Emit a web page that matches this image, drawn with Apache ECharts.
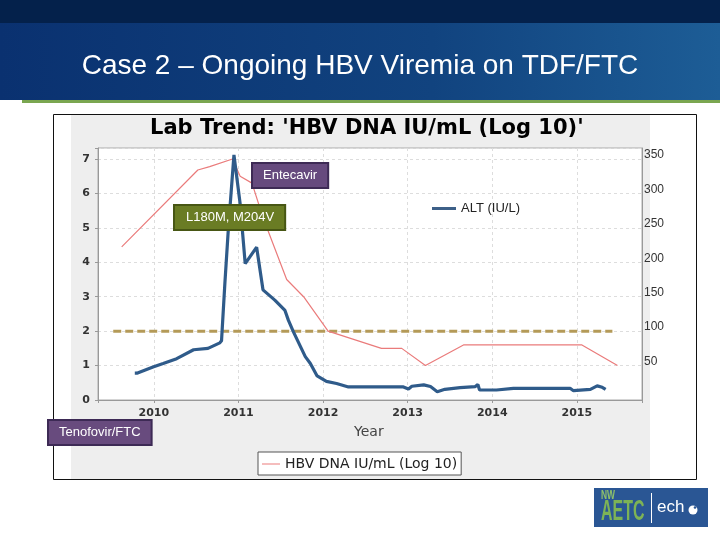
<!DOCTYPE html>
<html><head><meta charset="utf-8">
<script src="https://cdn.jsdelivr.net/npm/echarts@6/dist/echarts.min.js"></script>
<style>html,body{margin:0;padding:0;background:#fff;}#c{width:720px;height:540px;}</style>
</head><body><div id="c"></div>
<script>
// HBV DNA (log10 IU/mL) - left axis
const dnaYears = [2009.62, 2010.52, 2010.66, 2010.93, 2011.02, 2011.16, 2011.29, 2011.57, 2011.77, 2012.06, 2012.69, 2012.93, 2013.21, 2013.66, 2015.06, 2015.48];
const dnaValues = [4.45, 6.68, 6.78, 7.0, 6.5, 6.3, 5.3, 3.5, 3.0, 2.0, 1.5, 1.5, 1.0, 1.6, 1.6, 1.0];
// ALT (IU/L) - right axis
const altYears = [2009.775, 2009.80, 2009.99, 2010.11, 2010.27, 2010.47, 2010.64, 2010.78, 2010.80, 2010.84, 2010.88, 2010.947, 2011.02, 2011.08, 2011.215, 2011.29, 2011.43, 2011.55, 2011.59, 2011.65, 2011.79, 2011.85, 2011.93, 2012.04, 2012.16, 2012.30, 2012.95, 2013.01, 2013.05, 2013.19, 2013.27, 2013.35, 2013.44, 2013.62, 2013.80, 2013.83, 2013.85, 2014.05, 2014.25, 2014.92, 2014.96, 2015.16, 2015.24, 2015.30, 2015.34];
const altValues = [39, 39, 48, 53, 60, 73, 75, 83, 86, 170, 247, 356, 285, 198, 222, 160, 145, 130, 116, 99, 63, 53, 35, 27, 24, 19, 19, 16, 20, 22, 19.5, 12, 15.5, 18, 19.5, 22.5, 14.5, 14.5, 17, 17, 13.5, 15.5, 20.5, 18.5, 15.5];
// Threshold reference line (log10 = 2)
const refYears = [2009.52, 2015.42];
const refValues = [2, 2];

const slideTitle = 'Case 2 \u2013 Ongoing HBV Viremia on TDF/FTC';
const chartTitle = "Lab Trend: 'HBV DNA IU/mL (Log 10)'";
const dnaName = 'HBV DNA IU/mL (Log 10)';
const altName = 'ALT (IU/L)';

const zip = (xs, ys) => xs.map((x, i) => [x, ys[i]]);
const isInt = v => Math.abs(v - Math.round(v)) < 1e-6;

const chart = echarts.init(document.getElementById('c'));
chart.setOption({
  animation: false,
  backgroundColor: '#ffffff',
  graphic: [
    { type: 'rect', z: -20, shape: { x: 0, y: 0, width: 720, height: 24 }, style: { fill: '#04214b' } },
    { type: 'rect', z: -20, shape: { x: 0, y: 23, width: 720, height: 77 },
      style: { fill: new echarts.graphic.LinearGradient(0, 0, 1, 0, [{ offset: 0, color: '#0a3170' }, { offset: 0.6, color: '#11437f' }, { offset: 1, color: '#1d5d96' }]) } },
    { type: 'rect', z: -20, shape: { x: 22, y: 100, width: 698, height: 3 }, style: { fill: '#7aa650' } },
    { type: 'text', z: 10, left: 'center', top: 52, style: { text: slideTitle, fill: '#ffffff', font: '28px "Liberation Sans", Arial, sans-serif' } },
    { type: 'rect', z: -15, shape: { x: 53.5, y: 114.5, width: 643, height: 365 }, style: { fill: '#ffffff', stroke: '#111', lineWidth: 1 } },
    { type: 'rect', z: -14, shape: { x: 71, y: 115, width: 579, height: 364 }, style: { fill: '#eeeeee' } },
    { type: 'text', z: 10, left: 150, top: 118, style: { text: chartTitle, fill: '#000', font: 'bold 21px "DejaVu Sans", sans-serif' } },
    { type: 'text', z: 10, left: 354, top: 425, style: { text: 'Year', fill: '#444', font: '14px "DejaVu Sans", sans-serif' } },
    { type: 'text', z: 50, left: 251, top: 162, style: { text: 'Entecavir', fill: '#fff', font: '13px "Liberation Sans", Arial, sans-serif', backgroundColor: '#664a7e', borderColor: '#3d2a55', borderWidth: 2, padding: [5, 10, 5, 10] } },
    { type: 'text', z: 50, left: 173, top: 204, style: { text: 'L180M, M204V', fill: '#fff', font: '13px "Liberation Sans", Arial, sans-serif', backgroundColor: '#6a7c24', borderColor: '#475614', borderWidth: 2, padding: [5, 10, 5, 11] } },
    { type: 'text', z: 50, left: 47, top: 419, style: { text: 'Tenofovir/FTC', fill: '#fff', font: '13px "Liberation Sans", Arial, sans-serif', backgroundColor: '#684b7e', borderColor: '#3d2a55', borderWidth: 2, padding: [5, 10, 5, 10] } },
    { type: 'rect', z: 10, shape: { x: 594, y: 488, width: 114, height: 39 }, style: { fill: '#2a5694' } },
    { type: 'text', z: 11, x: 601, y: 490, scaleX: 0.7, style: { text: 'NW', fill: '#8ec16a', font: 'bold 12px "Liberation Sans", sans-serif' } },
    { type: 'text', z: 11, x: 601, y: 497, scaleX: 0.55, style: { text: 'AETC', fill: '#7db356', font: 'bold 29px "Liberation Sans", sans-serif' } },
    { type: 'rect', z: 11, shape: { x: 651, y: 493, width: 1, height: 30 }, style: { fill: '#ffffff' } },
    { type: 'text', z: 11, left: 657, top: 499, style: { text: 'ech', fill: '#ffffff', font: '17px "Liberation Sans", sans-serif' } },
    { type: 'circle', z: 11, shape: { cx: 693, cy: 510, r: 4.5 }, style: { fill: '#ffffff' } },
    { type: 'circle', z: 12, shape: { cx: 695, cy: 507.5, r: 1.3 }, style: { fill: '#2a5694' } }
  ],
  grid: { left: 98, right: 78, top: 148, bottom: 140, show: true, backgroundColor: '#ffffff', borderColor: '#aaaaaa', borderWidth: 1 },
  legend: [
    { data: [{ name: altName, icon: 'rect' }], left: 427, top: 197, itemWidth: 24, itemHeight: 3, itemGap: 6,
      textStyle: { color: '#222', fontSize: 13, fontFamily: '"Liberation Sans", Arial, sans-serif' } },
    { data: [{ name: dnaName, icon: 'rect' }], left: 258, top: 452, itemWidth: 18, itemHeight: 1, itemGap: 6, padding: [5, 4, 4, 4],
      backgroundColor: '#fff', borderColor: '#555', borderWidth: 1,
      textStyle: { color: '#222', fontSize: 14, fontFamily: '"DejaVu Sans", sans-serif' } }
  ],
  xAxis: {
    type: 'value', min: 2009.34, max: 2015.77,
    axisLine: { lineStyle: { color: '#999' } },
    axisTick: { show: true, length: 3, lineStyle: { color: '#999' } },
    axisLabel: { formatter: v => isInt(v) ? String(Math.round(v)) : '', color: '#333', fontSize: 11, fontWeight: 'bold', fontFamily: '"DejaVu Sans", sans-serif', margin: 8 },
    splitLine: { show: true, lineStyle: { color: '#dddddd', type: [3, 3] } }
  },
  yAxis: [
    { type: 'value', min: 0, max: 7.32, interval: 1,
      axisLine: { show: true, lineStyle: { color: '#999' } },
      axisTick: { show: true, length: 3, lineStyle: { color: '#999' } },
      axisLabel: { formatter: v => isInt(v) ? String(Math.round(v)) : '', color: '#333', fontSize: 11, fontWeight: 'bold', fontFamily: '"DejaVu Sans", sans-serif', margin: 8 },
      splitLine: { show: true, lineStyle: { color: '#dddddd', type: [3, 3] } } },
    { type: 'value', min: 0, max: 366, interval: 50, position: 'right',
      axisLine: { show: true, lineStyle: { color: '#999' } },
      axisTick: { show: false },
      axisLabel: { formatter: v => (isInt(v / 50) && v > 0) ? String(Math.round(v)) : '', color: '#333', fontSize: 12, fontFamily: '"Liberation Sans", Arial, sans-serif', margin: 2, verticalAlign: 'bottom', lineHeight: 8 },
      splitLine: { show: false } }
  ],
  series: [
    { name: 'ref', type: 'line', yAxisIndex: 0, data: zip(refYears, refValues), symbol: 'none', silent: true,
      lineStyle: { color: '#b49a58', width: 3, type: [8, 4] }, z: 3 },
    { name: dnaName, type: 'line', yAxisIndex: 0, data: zip(dnaYears, dnaValues), symbol: 'none',
      lineStyle: { color: '#ea7b7b', width: 1.2 }, itemStyle: { color: '#ea7b7b' }, z: 4 },
    { name: altName, type: 'line', yAxisIndex: 1, data: zip(altYears, altValues), symbol: 'none',
      lineStyle: { color: '#2f5b8a', width: 3.2 }, itemStyle: { color: '#3d6088' }, z: 5 }
  ]
});
</script></body></html>
